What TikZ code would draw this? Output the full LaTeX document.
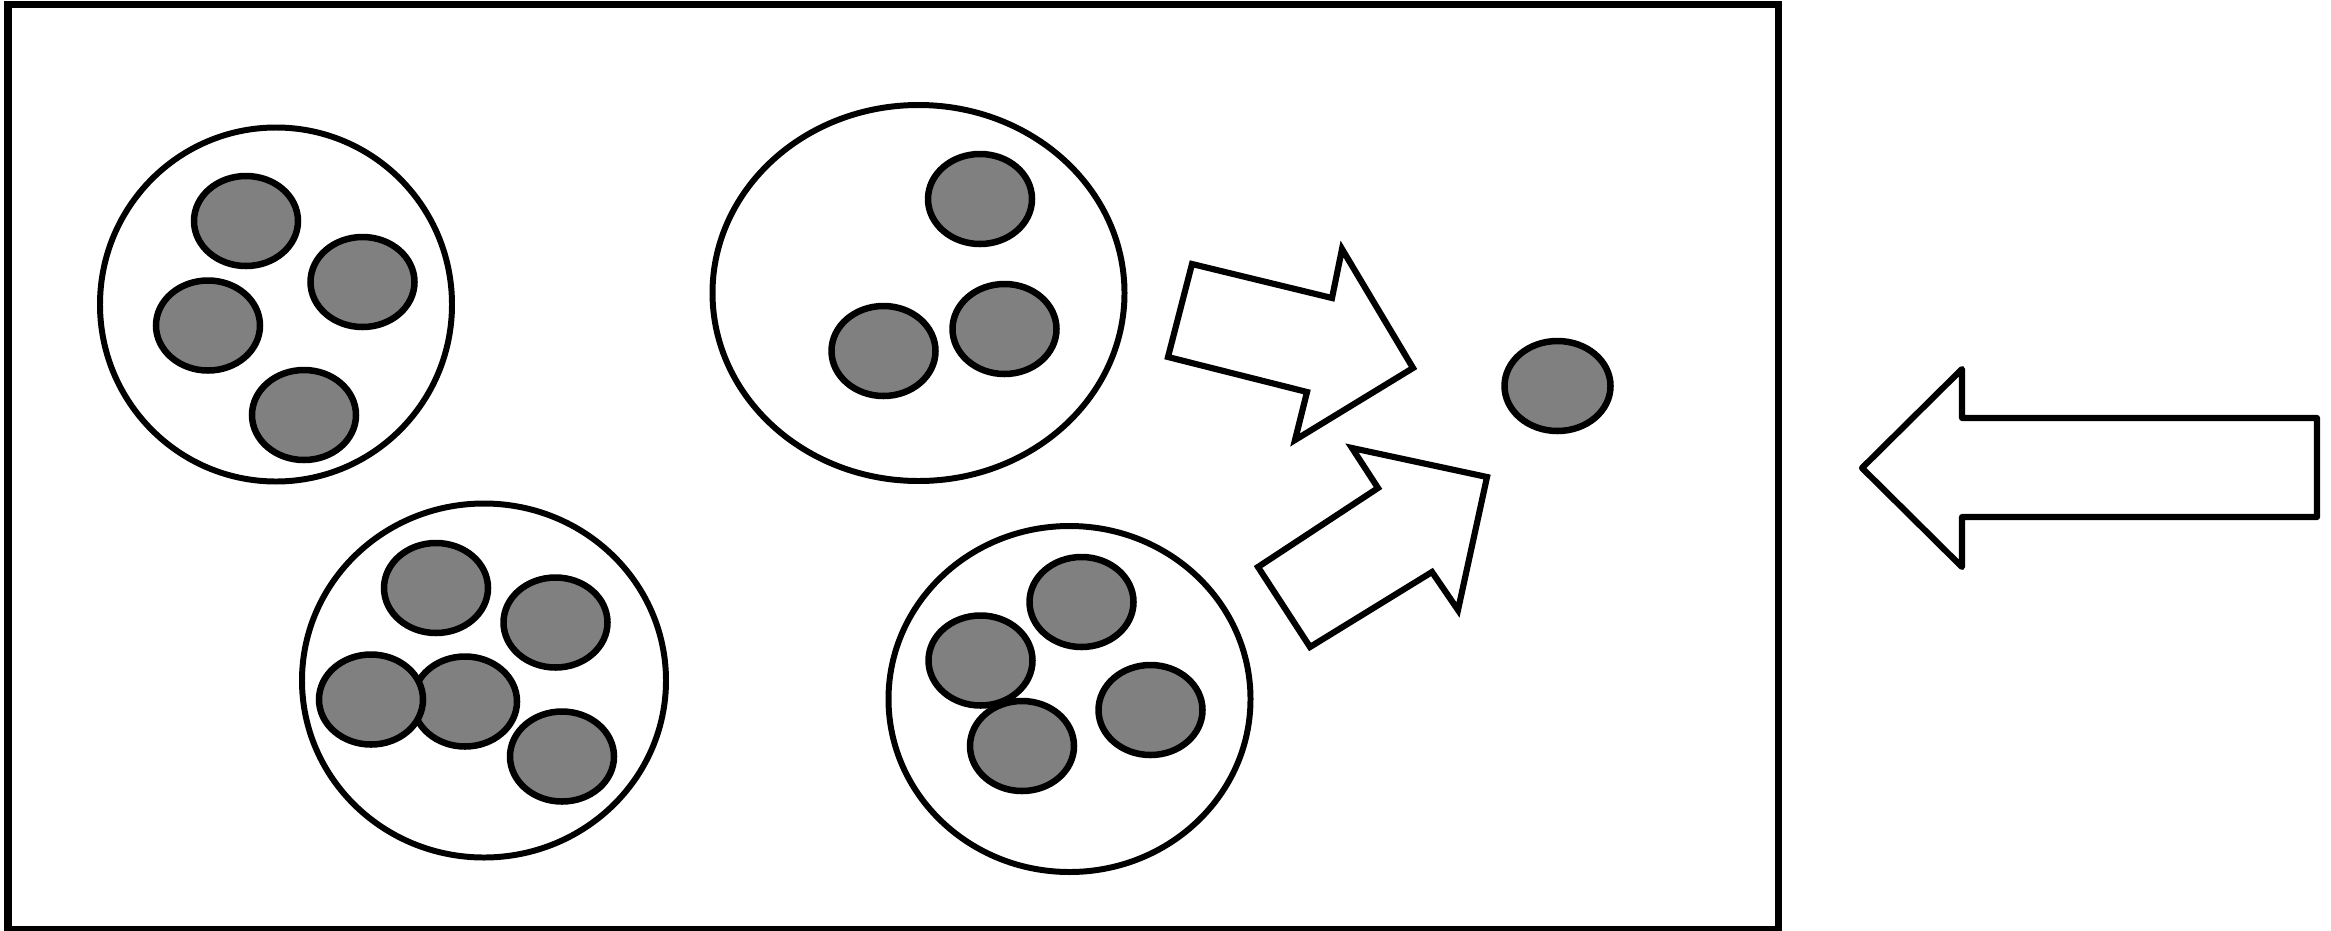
\documentclass[tikz,border=0pt]{standalone}
\begin{document}
\begin{tikzpicture}[x=0.01cm,y=-0.01cm,
  frame/.style={draw=black,line width=2pt,line join=miter},
  cell/.style={draw=black,fill=white,line width=1.7pt},
  grain/.style={draw=black,fill=gray,line width=1.85pt},
  bigarrow/.style={draw=black,fill=white,line width=1.75pt,line join=miter,miter limit=10},
  inarrow/.style={draw=black,fill=white,line width=1.75pt,line join=round}]
\useasboundingbox (0,0) rectangle (2331,930);
% outer frame
\draw[frame] (8,4.5) rectangle (1778,929);
% cell 1 (top left)
\draw[cell] (276,304.5) ellipse [x radius=176,y radius=177];
\draw[grain] (246,221) ellipse [x radius=52,y radius=45];
\draw[grain] (362.5,282) ellipse [x radius=52,y radius=45];
\draw[grain] (208,325.5) ellipse [x radius=52,y radius=45];
\draw[grain] (304,415) ellipse [x radius=52,y radius=45];
% cell 2 (top middle)
\draw[cell] (918.5,293) ellipse [x radius=206,y radius=188];
\draw[grain] (980,199) ellipse [x radius=52,y radius=45];
\draw[grain] (883.5,351) ellipse [x radius=52,y radius=45];
\draw[grain] (1004.5,329) ellipse [x radius=52,y radius=45];
% cell 3 (bottom left)
\draw[cell] (484,680.5) ellipse [x radius=182,y radius=177];
\draw[grain] (436,588) ellipse [x radius=52,y radius=45];
\draw[grain] (555.5,622.5) ellipse [x radius=52,y radius=45];
\draw[grain] (465,701.5) ellipse [x radius=52,y radius=45];
\draw[grain] (371,699.5) ellipse [x radius=52,y radius=45];
\draw[grain] (562,756.5) ellipse [x radius=52,y radius=45];
% cell 4 (bottom middle)
\draw[cell] (1069.5,699) ellipse [x radius=181,y radius=173];
\draw[grain] (1081.5,602) ellipse [x radius=52,y radius=45];
\draw[grain] (980.5,660.5) ellipse [x radius=52,y radius=45];
\draw[grain] (1022,746) ellipse [x radius=52,y radius=45];
\draw[grain] (1150.5,710) ellipse [x radius=52,y radius=45];
% lone grain
\draw[grain] (1557.5,386) ellipse [x radius=53,y radius=45];
% arrows
\draw[bigarrow] (1192,264) -- (1332,298) -- (1342,249) -- (1413,368) -- (1295,440) -- (1307,392) -- (1168,357) -- cycle;
\draw[bigarrow] (1352,448) -- (1487,477) -- (1458,610) -- (1432,572) -- (1310,647) -- (1258,567) -- (1378,488) -- cycle;
\draw[inarrow] (1862,468) -- (1962,369) -- (1962,418) -- (2317,418) -- (2317,517) -- (1962,517) -- (1962,567) -- cycle;
\end{tikzpicture}
\end{document}
